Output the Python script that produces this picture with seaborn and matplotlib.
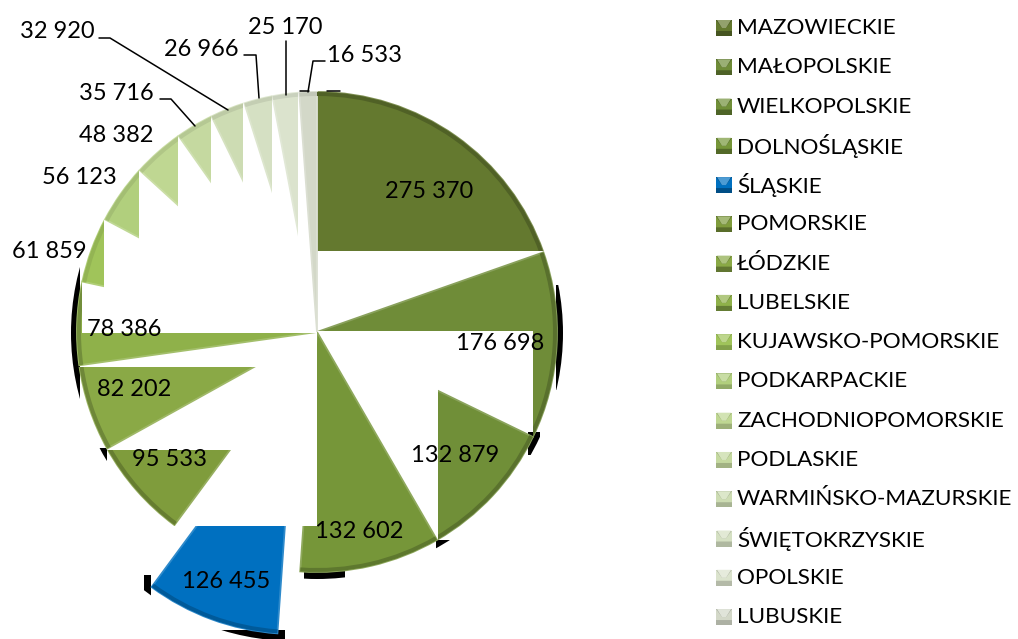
import matplotlib
matplotlib.use("Agg")
import matplotlib.pyplot as plt
from matplotlib.patches import Circle, Polygon, Rectangle
from matplotlib.path import Path
import seaborn as sns

regions = ["MAZOWIECKIE", "MAŁOPOLSKIE", "WIELKOPOLSKIE", "DOLNOŚLĄSKIE", "ŚLĄSKIE", "POMORSKIE",
           "ŁÓDZKIE", "LUBELSKIE", "KUJAWSKO-POMORSKIE", "PODKARPACKIE", "ZACHODNIOPOMORSKIE",
           "PODLASKIE", "WARMIŃSKO-MAZURSKIE", "ŚWIĘTOKRZYSKIE", "OPOLSKIE", "LUBUSKIE"]
values = [275370, 176698, 132879, 132602, 126455, 95533, 82202, 78386,
          61859, 56123, 48382, 35716, 32920, 26966, 25170, 16533]
colors = ["#64792f", "#6f8c38", "#708f38", "#769639", "#0070c0", "#7f9c3c", "#8aa946", "#8fb14a",
          "#a0c45a", "#b1cf7d", "#bfd792", "#c5d9a0", "#cddcb3", "#d5e0c3", "#dbe3cd", "#d3d8c8"]
explode = [0, 0, 0, 0, 66, 0, 0, 0, 0, 0, 0, 0, 0, 0, 0, 0]

H = 639
CX, CY, R = 317, 332, 240

sns.set_theme(style="white")
plt.rcParams["font.family"] = ["Lato", "DejaVu Sans"]

# the source chart has each slice cut off by rectangles, kept here in picture pixels
FAR = 2000
clips = [
    [(317, 0, FAR, 251)],
    [(0, 0, FAR, 331), (533, 0, FAR, FAR)],
    [(438, 0, FAR, FAR)],
    [(317, 0, FAR, FAR), (0, 526, FAR, FAR)],
    [(0, 526, FAR, FAR)],
    [(0, 450, FAR, 526)],
    [(0, 367, FAR, FAR)],
    [(0, 333, FAR, FAR), (0, 0, 82, FAR)],
    [(0, 0, 104, FAR)],
    [(0, 0, 139, FAR)],
    [(0, 0, 178, FAR)],
    [(0, 0, 211, FAR)],
    [(0, 0, 243, FAR)],
    [(0, 0, 272, FAR)],
    [(0, 0, 298, FAR)],
    [(0, 0, FAR, FAR)],
]


def boxes_path(boxes):
    parts = []
    for x0, y0, x1, y1 in boxes:
        parts.append(Path([(x0, H - y0), (x1, H - y0), (x1, H - y1), (x0, H - y1), (x0, H - y0)], closed=True))
    return Path.make_compound_path(*parts)


def shade(c, factor):
    # factor < 1 goes darker, > 1 goes towards white
    r, g, b = matplotlib.colors.to_rgb(c)
    if factor <= 1:
        return (r * factor, g * factor, b * factor)
    t = factor - 1
    return (r + (1 - r) * t, g + (1 - g) * t, b + (1 - b) * t)


# the pale slices only get a faint rim in the source
rim_factor = [0.8] * 8 + [0.92] * 8

fig = plt.figure(figsize=(10.18, 6.39), dpi=100)
ax = fig.add_axes([0, 0, 1, 1])

# black slivers left over around the rim
shadow = Circle((CX, H - CY - 1), 246, fc="black", ec="none", zorder=1)
ax.add_patch(shadow)
shadow.set_clip_path(boxes_path([(556, 285, 570, 390), (68, 265, 80, 400), (304, 570, 345, 585),
                                 (436, 540, 458, 550), (528, 432, 540, 455), (98, 448, 107, 466)]), ax.transData)
shadow2 = Circle((294, H - 394), 247, fc="black", ec="none", zorder=1)
ax.add_patch(shadow2)
shadow2.set_clip_path(boxes_path([(220, 630, 285, 639), (144, 575, 151, 600)]), ax.transData)

# base slices, light edge for the bevel
wedges, _ = ax.pie(values, colors=colors, startangle=90, counterclock=False, radius=R,
                   center=(CX, H - CY), explode=explode, frame=True,
                   wedgeprops={"linewidth": 1.3, "zorder": 2})
# dark rim along the arc
rim, _ = ax.pie(values, colors=[shade(c, f) for c, f in zip(colors, rim_factor)], startangle=90,
                counterclock=False, radius=R, center=(CX, H - CY), explode=explode, frame=True,
                wedgeprops={"width": 4, "linewidth": 0, "zorder": 3})
ax.set_xlim(0, 1018)
ax.set_ylim(0, H)
ax.set_aspect("equal")
ax.axis("off")

for w, r, c, boxes in zip(wedges, rim, colors, clips):
    w.set_edgecolor(shade(c, 1.18))
    # pie turns clipping off on its wedges
    w.set_clip_on(True)
    r.set_clip_on(True)
    w.set_clip_path(boxes_path(boxes), ax.transData)
    r.set_clip_path(boxes_path(boxes), ax.transData)

# value labels
label_pos = [(429, 191), (500, 343), (455, 456), (359, 532), (226, 581), (170, 459), (134, 390), (124, 330),
             (49, 251), (79, 177), (116, 136), (116, 94), (57, 32), (201, 50), (285, 28), (365, 56)]
for v, (x, y) in zip(values, label_pos):
    txt = f"{v:,}".replace(",", " ")
    ax.text(x, H - y, txt, ha="center", va="center", fontsize=17, color="black", zorder=5)

# leader lines
leaders = [
    [(99, 38), (110, 38), (228, 110)],
    [(160, 99), (171, 99), (195, 126)],
    [(244, 55), (256, 55), (259, 98)],
    [(286, 41), (286, 95)],
    [(325, 61), (313, 61), (308, 92)],
    [(300, 91), (309, 91)],
    [(327, 91), (340, 91)],
]
for pts in leaders:
    ax.plot([p[0] for p in pts], [H - p[1] for p in pts], color="black", lw=1.1, zorder=4)

# legend, drawn by hand so the rows keep an even step
legend_top, legend_step = 27, 39.27
for i, (name, c, f) in enumerate(zip(regions, colors, rim_factor)):
    y = H - (legend_top + i * legend_step)
    x0, x1, y0, y1 = 716, 732, y - 9, y + 7
    ax.add_patch(Rectangle((x0, y0), x1 - x0, y1 - y0, fc=shade(c, f - 0.1), ec="none", zorder=4))
    ax.add_patch(Polygon([(x0 + 1, y1), (x1 - 1, y1), (x1 - 6, y1 - 8), (x0 + 6, y1 - 8)],
                         fc=shade(c, 1.3), ec="none", zorder=5))
    ax.add_patch(Polygon([(x0, y1), (x0 + 6, y1 - 8), (x1 - 6, y1 - 8), (x1, y1), (x1, y0 + 5), (x0, y0 + 5)],
                         fc=c, ec="none", zorder=4.5))
    ax.text(737, y - 1, name, ha="left", va="center", fontsize=16.2, color="black", zorder=5)

fig.savefig("out.png", dpi=100, facecolor="white")
